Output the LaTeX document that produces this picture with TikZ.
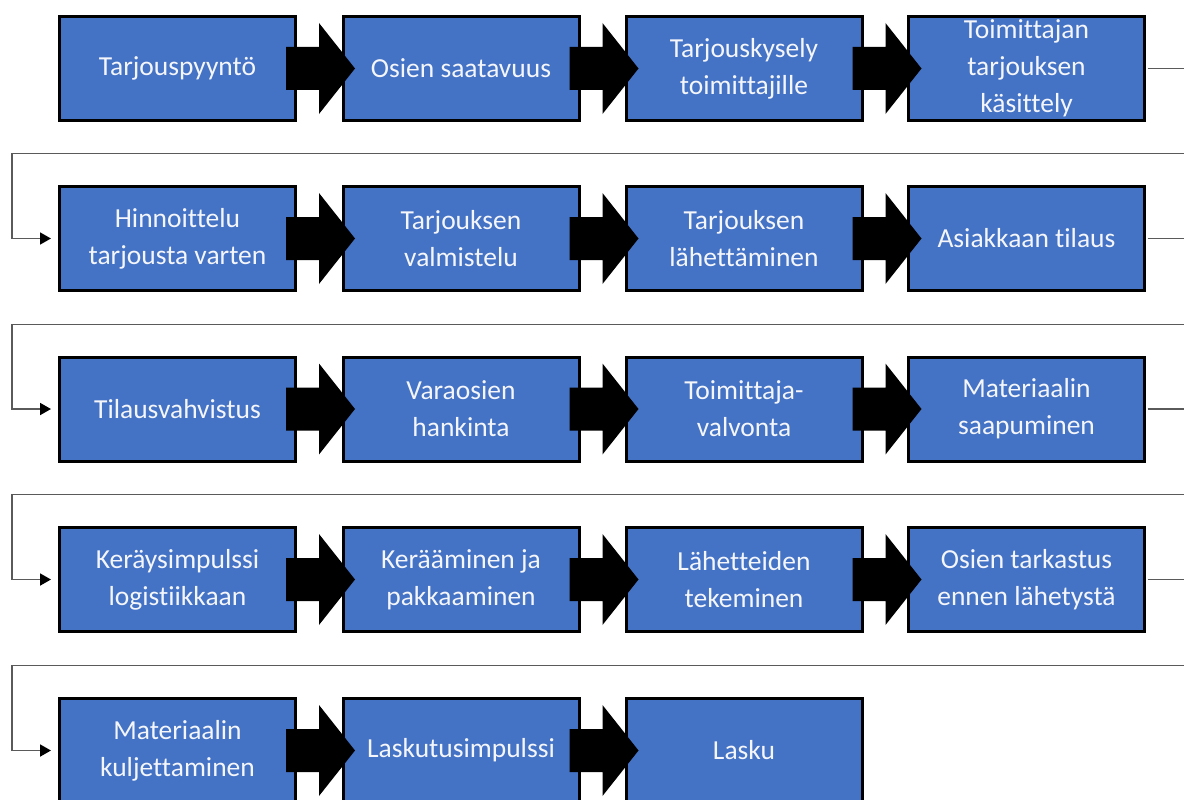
\documentclass[tikz,border=0pt]{standalone}
\usepackage{fontspec}
\setmainfont{Carlito}[Ligatures=CommonOff]
\usetikzlibrary{arrows.meta}
\definecolor{stepblue}{HTML}{4472C4}
\definecolor{linkgray}{HTML}{5A5A5A}
\definecolor{steptext}{HTML}{F4F6FB}
\tikzset{
  stepbox/.style={draw=black, line width=3pt, fill=stepblue, text=steptext,
    minimum width=236pt, minimum height=104pt, inner sep=0pt,
    align=center, font=\fontsize{27.5}{37}\selectfont},
  link/.style={draw=linkgray, line width=1.8pt},
  linkarrow/.style={link, -{Triangle[length=11pt,width=12pt,fill=black,color=black]}}
}
% block arrow placed between two consecutive boxes
\newcommand{\blockarrow}[1]{%
  \fill ([xshift=-11pt,yshift=21.5pt]#1.east) -- ([xshift=22pt,yshift=21.5pt]#1.east)
    -- ([xshift=22pt,yshift=45.5pt]#1.east) -- ([xshift=58pt]#1.east)
    -- ([xshift=22pt,yshift=-45.5pt]#1.east) -- ([xshift=22pt,yshift=-21.5pt]#1.east)
    -- ([xshift=-11pt,yshift=-21.5pt]#1.east) -- cycle;}
\begin{document}
\begin{tikzpicture}[x=1pt,y=-1pt]
\useasboundingbox (0,0) rectangle (1184,800);
\clip (0,0) rectangle (1184,800);

% columns and rows (box centres)
\def\ca{177.5}\def\cb{461}\def\cc{744}\def\cd{1026.5}

\node[stepbox] (t1) at (\ca,68.5) {Tarjouspyyntö};
\node[stepbox] (t2) at (\cb,68.5) {Osien saatavuus};
\node[stepbox] (t3) at (\cc,68.5) {Tarjouskysely\\toimittajille};
\node[stepbox] (t4) at (\cd,68.5) {Toimittajan\\tarjouksen\\käsittely};

\node[stepbox] (h1) at (\ca,238.5) {Hinnoittelu\\tarjousta varten};
\node[stepbox] (h2) at (\cb,238.5) {Tarjouksen\\valmistelu};
\node[stepbox] (h3) at (\cc,238.5) {Tarjouksen\\lähettäminen};
\node[stepbox] (h4) at (\cd,238.5) {Asiakkaan tilaus};

\node[stepbox] (v1) at (\ca,409) {Tilausvahvistus};
\node[stepbox] (v2) at (\cb,409) {Varaosien\\hankinta};
\node[stepbox] (v3) at (\cc,409) {Toimittaja-\\valvonta};
\node[stepbox] (v4) at (\cd,409) {Materiaalin\\saapuminen};

\node[stepbox] (k1) at (\ca,579.5) {Keräysimpulssi\\logistiikkaan};
\node[stepbox] (k2) at (\cb,579.5) {Kerääminen ja\\pakkaaminen};
\node[stepbox] (k3) at (\cc,579.5) {Lähetteiden\\tekeminen};
\node[stepbox] (k4) at (\cd,579.5) {Osien tarkastus\\ennen lähetystä};

\node[stepbox] (m1) at (\ca,750.5) {Materiaalin\\kuljettaminen};
\node[stepbox] (m2) at (\cb,750.5) {Laskutusimpulssi};
\node[stepbox] (m3) at (\cc,750.5) {Lasku};

% block arrows inside each row
\foreach \a in {t1,t2,t3,h1,h2,h3,v1,v2,v3,k1,k2,k3,m1,m2}{\blockarrow{\a}}

% return links from the end of one row to the start of the next
\coordinate (r1) at (1184,153.5);
\coordinate (r2) at (1184,324.5);
\coordinate (r3) at (1184,494.5);
\coordinate (r4) at (1184,665.5);
\foreach \e/\r/\s in {t4/r1/h1,h4/r2/v1,v4/r3/k1,k4/r4/m1}{
  \draw[link] ([xshift=1.5pt]\e.east) -- (\e.east -| 1190,0);
  \draw[linkarrow] (\r) -- (12,0 |- \r) |- ([xshift=-7pt]\s.west);
}
\end{tikzpicture}
\end{document}
